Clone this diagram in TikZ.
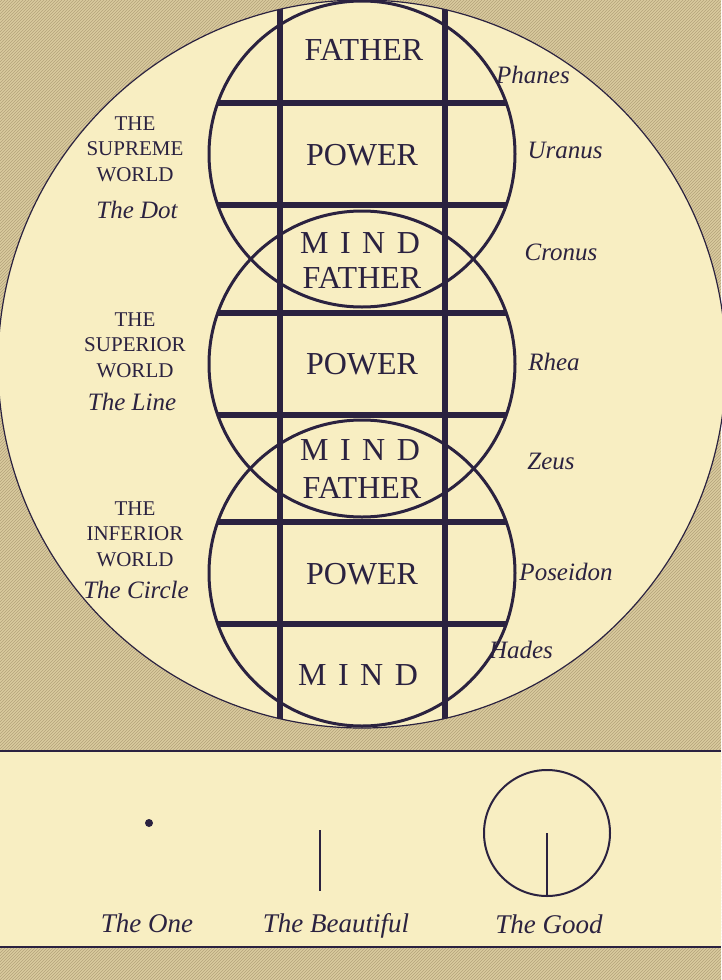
\documentclass[tikz,border=0pt]{standalone}
\usepackage{fontspec}
\setmainfont{Liberation Serif}
\usepackage{xcolor}
\usepackage{tikz}
\usetikzlibrary{positioning, patterns}

\definecolor{cream}{HTML}{F8EEC2}
\definecolor{ink}{HTML}{2B2240}
\definecolor{parch}{HTML}{DACB9E}
\definecolor{parchdark}{HTML}{B3A27A}
\newcommand{\mgap}{\hspace{0.36em}}

\begin{document}
\begin{tikzpicture}[
    x=1pt, y=-1pt,
    cell/.style={font=\fontsize{32}{34}\selectfont, text=ink, inner sep=0pt},
    world/.style={font=\fontsize{21}{25.5}\selectfont, text=ink, align=center, inner sep=0pt},
    script/.style={font=\fontsize{25}{28}\selectfont\itshape, text=ink, inner sep=0pt},
    caption/.style={script, font=\fontsize{27}{30}\selectfont\itshape, anchor=base},
    orb/.style={draw=ink, line width=3pt},
    bar/.style={draw=ink, line width=5.5pt},
    frame/.style={draw=ink, line width=1.2pt},
    symbol/.style={draw=ink, line width=2pt}
]
    \useasboundingbox (0,0) rectangle (721,980);

    % Textured ground
    \fill[parch] (0,0) rectangle (721,980);
    \fill[pattern=north east lines, pattern color=parchdark] (0,0) rectangle (721,980);

    % Great circle
    \coordinate (hub) at (362,364);
    \fill[cream] (hub) circle[radius=364];
    \draw[frame] (hub) circle[radius=364];

    % Lower panel
    \fill[cream] (0,751) rectangle (721,947);
    \draw[frame] (0,751) -- (721,751);
    \draw[frame] (0,947) -- (721,947);

    % Three worlds
    \coordinate (top) at (362,154);
    \coordinate (mid) at (362,364);
    \coordinate (low) at (362,573);
    \draw[orb] (top) circle[radius=153];
    \draw[orb] (mid) circle[radius=153];
    \draw[orb] (low) circle[radius=153];

    % Cross bars
    \foreach \c in {154,364,573} {
        \draw[bar] (218,\c-51) -- (506,\c-51);
        \draw[bar] (218,\c+51) -- (506,\c+51);
    }
    \begin{scope}
        \clip (hub) circle[radius=364];
        \draw[bar, line width=6pt] (280,0) -- (280,740);
        \draw[bar, line width=6pt] (445,0) -- (445,740);
    \end{scope}

    % Cells
    \node[cell] (father1) at (364,50)  {FATHER};
    \node[cell] (power1)  at (362,155) {POWER};
    \node[cell] (mind1)   at (360,243) {M\mgap I\mgap N\mgap D};
    \node[cell] (father2) at (362,278) {FATHER};
    \node[cell] (power2)  at (362,364) {POWER};
    \node[cell] (mind2)   at (360,450) {M\mgap I\mgap N\mgap D};
    \node[cell] (father3) at (362,488) {FATHER};
    \node[cell] (power3)  at (362,574) {POWER};
    \node[cell] (mind3)   at (358,675) {M\mgap I\mgap N\mgap D};

    % Worlds on the left
    \node[world] (supreme)  at (135,149) {THE\\SUPREME\\WORLD};
    \node[script] (dot)     at (137,210) {The Dot};
    \node[world] (superior) at (135,345) {THE\\SUPERIOR\\WORLD};
    \node[script] (line)    at (132,402) {The Line};
    \node[world] (inferior) at (135,534) {THE\\INFERIOR\\WORLD};
    \node[script] (circ)    at (136,590) {The Circle};

    % Gods on the right
    \node[script] (phanes)   at (533,75)  {Phanes};
    \node[script] (uranus)   at (565,150) {Uranus};
    \node[script] (cronus)   at (561,252) {Cronus};
    \node[script] (rhea)     at (554,362) {Rhea};
    \node[script] (zeus)     at (551,461) {Zeus};
    \node[script] (poseidon) at (566,572) {Poseidon};
    \node[script] (hades)    at (521,650) {Hades};

    % The One, the Beautiful, the Good
    \node[circle, fill=ink, inner sep=0pt, minimum size=8pt] (one) at (149,823) {};
    \coordinate (beautytop) at (320,830);
    \coordinate (beautybot) at (320,891);
    \draw[symbol] (beautytop) -- (beautybot);
    \node[symbol, circle, inner sep=0pt, minimum size=126pt] (good) at (547,833) {};
    \draw[symbol] (good.center) -- (good.south);

    \node[caption] (onelabel)    at (147,932) {The One};
    \node[caption] (beautylabel) at (336,932) {The Beautiful};
    \node[caption] (goodlabel)   at (549,933) {The Good};

\end{tikzpicture}
\end{document}
